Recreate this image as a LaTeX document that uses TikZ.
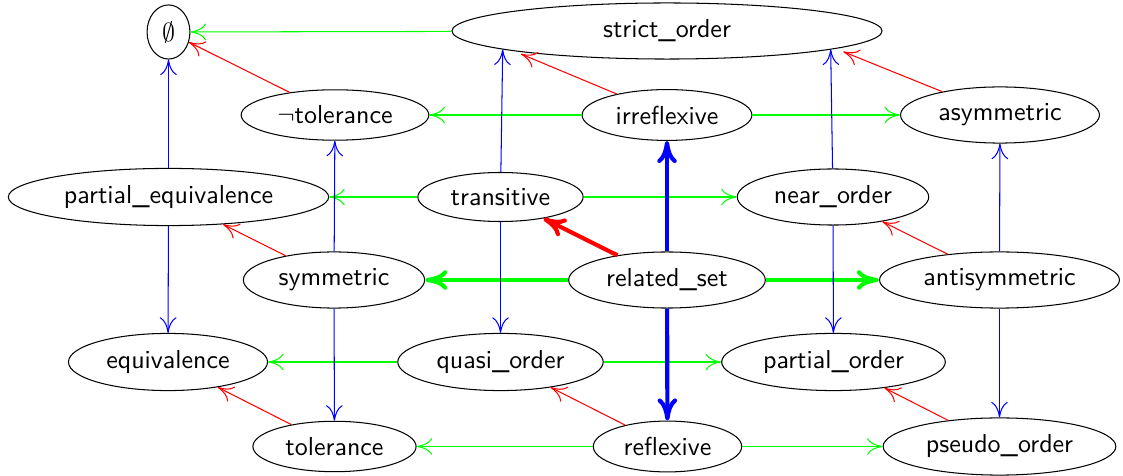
\documentclass[tikz,border=0pt]{standalone}
\usetikzlibrary{shapes.geometric,arrows.meta}
\begin{document}
\begin{tikzpicture}[x=0.384615pt,y=-0.384615pt,
  nd/.style={ellipse,draw,font=\sffamily,inner sep=0.3333em},
  thinarr/.style={-{Computer Modern Rightarrow[length=6pt,width=6.4pt]}},
  thickarr/.style={ultra thick,-{Computer Modern Rightarrow[length=8.5pt,width=7.5pt]}},
  ge/.style={draw=green,thinarr},
  re/.style={draw=red,thinarr},
  be/.style={draw=blue,thinarr},
  gE/.style={draw=green,thickarr},
  rE/.style={draw=red,thickarr},
  bE/.style={draw=blue,thickarr}]
\useasboundingbox (0,0) rectangle (1123,476);
\node[nd] (empty) at (168.5,32) {$\emptyset$};
\node[nd,minimum width=165.4pt] (strict) at (667,31) {strict\_order};
\node[nd] (ntol) at (335,115) {$\neg$tolerance};
\node[nd] (irr) at (667,115) {irreflexive};
\node[nd] (asym) at (1000,115) {asymmetric};
\node[nd] (peq) at (168.5,197) {partial\_equivalence};
\node[nd] (trans) at (500.5,197) {transitive};
\node[nd] (near) at (833,197) {near\_order};
\node[nd] (sym) at (334,280) {symmetric};
\node[nd] (rel) at (667,280) {related\_set};
\node[nd] (anti) at (999.5,280) {antisymmetric};
\node[nd] (eqv) at (168,362) {equivalence};
\node[nd] (quasi) at (500.5,362) {quasi\_order};
\node[nd] (po) at (833.5,362) {partial\_order};
\node[nd] (tol) at (334.5,446.5) {tolerance};
\node[nd] (refl) at (667.5,446.5) {reflexive};
\node[nd] (pseudo) at (999.5,446.5) {pseudo\_order};
\coordinate (soLb) at (502.7,49.5);
\coordinate (soRb) at (830.7,49.5);
\coordinate (soLr) at (521,54);
\coordinate (soRr) at (843.3,51.7);
% green
\draw[ge] (strict) -- (empty);
\draw[ge] (irr) -- (ntol);
\draw[ge] (irr) -- (asym);
\draw[ge] (trans) -- (peq);
\draw[ge] (trans) -- (near);
\draw[ge] (quasi) -- (eqv);
\draw[ge] (quasi) -- (po);
\draw[ge] (refl) -- (tol);
\draw[ge] (refl) -- (pseudo);
\draw[gE] (rel) -- (sym);
\draw[gE] (rel) -- (anti);
% red
\draw[re] (ntol) -- (empty);
\draw[re] (irr) -- (soLr);
\draw[re] (asym) -- (soRr);
\draw[re] (sym) -- (peq);
\draw[re] (anti) -- (near);
\draw[re] (tol) -- (eqv);
\draw[re] (refl) -- (quasi);
\draw[re] (pseudo) -- (po);
\draw[rE] (rel) -- (trans);
% blue
\draw[be] (peq) -- (empty);
\draw[be] (sym) -- (ntol);
\draw[be] (sym) -- (tol);
\draw[be] (peq) -- (eqv);
\draw[be] (trans) -- (soLb);
\draw[be] (trans) -- (quasi);
\draw[be] (near) -- (soRb);
\draw[be] (near) -- (po);
\draw[be] (anti) -- (asym);
\draw[be] (anti) -- (pseudo);
\draw[bE] (rel) -- (irr);
\draw[bE] (rel) -- (refl);
\end{tikzpicture}
\end{document}
